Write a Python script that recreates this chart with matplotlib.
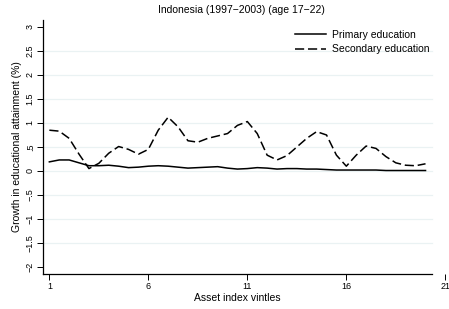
import matplotlib
matplotlib.use("Agg")
import matplotlib.pyplot as plt

plt.rcParams['font.family'] = ['Liberation Sans', 'DejaVu Sans']

# asset index vintles, read at half steps
vintile = [1, 1.5, 2, 2.5, 3, 3.5, 4, 4.5, 5, 5.5, 6, 6.5, 7, 7.5, 8, 8.5, 9, 9.5, 10, 10.5,
           11, 11.5, 12, 12.5, 13, 13.5, 14, 14.5, 15, 15.5, 16, 16.5, 17, 17.5, 18, 18.5, 19, 19.5, 20]
primary = [0.19, 0.23, 0.23, 0.17, 0.11, 0.11, 0.12, 0.10, 0.07, 0.08, 0.10, 0.11, 0.10, 0.08,
           0.06, 0.07, 0.08, 0.09, 0.06, 0.04, 0.05, 0.07, 0.06, 0.04, 0.05, 0.05, 0.04, 0.04,
           0.03, 0.02, 0.02, 0.02, 0.02, 0.02, 0.01, 0.01, 0.01, 0.01, 0.01]
secondary = [0.85, 0.83, 0.68, 0.35, 0.05, 0.16, 0.37, 0.51, 0.45, 0.35, 0.45, 0.85, 1.12, 0.92,
             0.63, 0.60, 0.68, 0.73, 0.78, 0.95, 1.03, 0.78, 0.33, 0.23, 0.32, 0.50, 0.68, 0.82,
             0.75, 0.33, 0.10, 0.33, 0.52, 0.47, 0.30, 0.17, 0.12, 0.11, 0.15]

xticks = [1, 6, 11, 16, 21]
yticks = [-2, -1.5, -1, -0.5, 0, 0.5, 1, 1.5, 2, 2.5, 3]
ylabels = ['\u22122', '\u22121.5', '\u22121', '\u2212.5', '0', '.5', '1', '1.5', '2', '2.5', '3']

fig = plt.figure(figsize=(4.49, 3.09), dpi=100)
ax = fig.add_axes([0.0958, 0.1133, 0.896, 0.822])

x0, x1 = 0.68, 20.33
ax.set_xlim(x0, 21.0)
ax.set_ylim(-2.146, 3.146)

# grid lines (not at the axis ends)
for y in yticks[1:-1]:
    ax.plot([x0, x1], [y, y], color='#eaf2f3', lw=0.9, zorder=0)

ax.plot(vintile, primary, color='black', lw=1.1, label='Primary education')
ax.plot(vintile, secondary, color='black', lw=1.1, linestyle=(0, (6, 2.5)),
        label='Secondary education')

for s in ['top', 'right']:
    ax.spines[s].set_visible(False)
ax.spines['bottom'].set_bounds(x0, x1)
ax.spines['left'].set_linewidth(0.9)
ax.spines['bottom'].set_linewidth(0.9)

ax.set_xticks(xticks)
ax.set_xticklabels([str(t) for t in xticks], fontsize=6.5)
ax.set_yticks(yticks)
ax.set_yticklabels(ylabels, fontsize=6.5, rotation=90, va='center')
ax.tick_params(length=4, width=0.7, pad=2)

ax.set_xlabel('Asset index vintles', fontsize=7.5)
ax.xaxis.set_label_coords((237 - 43) / (445.3 - 43), -0.075)
ax.set_ylabel('Growth in educational attainment (%)', fontsize=7.5, labelpad=3)
ax.set_title('Indonesia (1997\u22122003) (age 17\u221222)', fontsize=7.5, pad=5,
             x=(241 - 43) / (445.3 - 43))

ax.legend(loc='upper right', bbox_to_anchor=(0.975, 0.985), frameon=False, fontsize=7.5,
          handlelength=3.0, handletextpad=0.5, labelspacing=0.4, borderaxespad=0.2)

fig.savefig('out.png', dpi=100)
